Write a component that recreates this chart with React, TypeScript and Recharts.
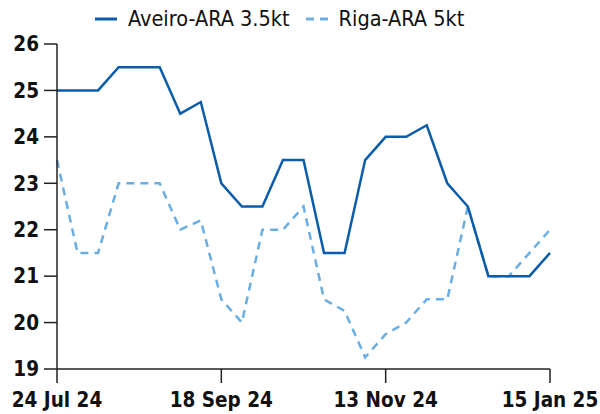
import { LineChart, Line, XAxis, YAxis } from 'recharts'

const dates = [
  '24 Jul 24', '31 Jul 24', '7 Aug 24', '14 Aug 24', '21 Aug 24', '28 Aug 24', '4 Sep 24', '11 Sep 24',
  '18 Sep 24', '25 Sep 24', '2 Oct 24', '9 Oct 24', '16 Oct 24', '23 Oct 24', '30 Oct 24', '6 Nov 24',
  '13 Nov 24', '20 Nov 24', '27 Nov 24', '4 Dec 24', '11 Dec 24', '18 Dec 24', '1 Jan 25', '8 Jan 25',
  '15 Jan 25',
]

const aveiro = [
  25, 25, 25, 25.5, 25.5, 25.5, 24.5, 24.75,
  23, 22.5, 22.5, 23.5, 23.5, 21.5, 21.5, 23.5,
  24, 24, 24.25, 23, 22.5, 21, 21, 21,
  21.5,
]

const riga = [
  23.5, 21.5, 21.5, 23, 23, 23, 22, 22.2,
  20.5, 20, 22, 22, 22.5, 20.5, 20.25, 19.25,
  19.75, 20, 20.5, 20.5, 22.5, 21, 21, 21.5,
  22,
]

const xTicks = ['24 Jul 24', '18 Sep 24', '13 Nov 24', '15 Jan 25']
const yTicks = [19, 20, 21, 22, 23, 24, 25, 26]

const SOLID = '#0b5cab'
const DASHED = '#6aaee4'
const FONT = '"DejaVu Sans Condensed", "DejaVu Sans", sans-serif'

const data = dates.map((date, i) => ({ date, aveiro: aveiro[i], riga: riga[i] }))

function TopLegend() {
  const item = (label: string, color: string, dashed: boolean, gap: number) => (
    <div style={{ display: 'flex', alignItems: 'center', marginRight: gap }}>
      <svg width={22} height={6} style={{ marginRight: 11 }}>
        <line x1={0} y1={3} x2={22} y2={3} stroke={color} strokeWidth={3}
          strokeDasharray={dashed ? '8 6' : undefined} />
      </svg>
      <span>{label}</span>
    </div>
  )
  return (
    <div style={{
      position: 'absolute', top: 6, left: 95, display: 'flex',
      fontFamily: FONT, fontSize: 21.5, color: '#111', lineHeight: '26px',
    }}>
      {item('Aveiro-ARA 3.5kt', SOLID, false, 16)}
      {item('Riga-ARA 5kt', DASHED, true, 0)}
    </div>
  )
}

const tickStyle = { fill: '#111', fontSize: 20.5, fontWeight: 'bold', fontFamily: FONT }

export default function App() {
  return (
    <div style={{ position: 'absolute', left: 0, top: 0, width: 600, height: 414, background: '#fff' }}>
      <TopLegend />
      <LineChart width={600} height={414} data={data}
        margin={{ top: 44, right: 50, bottom: 0, left: 0 }}>
        <XAxis dataKey="date" ticks={xTicks} interval={0} height={45}
          axisLine={{ stroke: '#222', strokeWidth: 1.5 }}
          tickLine={{ stroke: '#222', strokeWidth: 1.5 }}
          tickSize={14} tickMargin={9}
          tick={tickStyle} />
        <YAxis domain={[19, 26]} ticks={yTicks} width={57} interval={0}
          axisLine={{ stroke: '#222', strokeWidth: 1.5 }}
          tickLine={{ stroke: '#222', strokeWidth: 1.5 }}
          tickSize={13} tickMargin={5}
          tick={tickStyle} />
        <Line dataKey="riga" stroke={DASHED} strokeWidth={2.5} strokeDasharray="8 6"
          dot={false} isAnimationActive={false} />
        <Line dataKey="aveiro" stroke={SOLID} strokeWidth={2.5}
          dot={false} isAnimationActive={false} />
      </LineChart>
    </div>
  )
}
